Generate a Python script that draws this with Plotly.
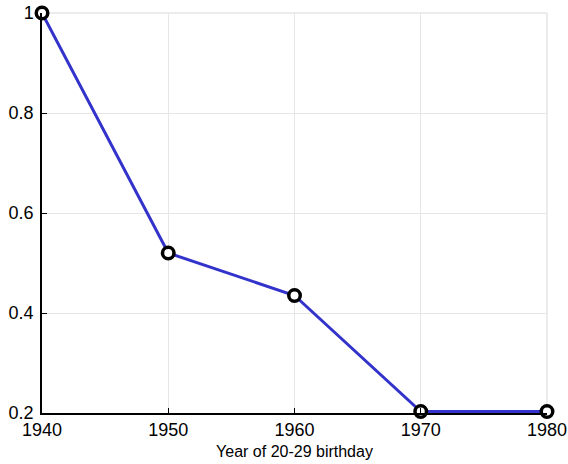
import plotly.graph_objects as go

years = [1940, 1950, 1960, 1970, 1980]
values = [1.0, 0.52, 0.435, 0.203, 0.203]
x_ticks = [1940, 1950, 1960, 1970, 1980]
y_ticks = [0.2, 0.4, 0.6, 0.8, 1.0]
y_tick_labels = ["0.2", "0.4", "0.6", "0.8", "1"]

fig = go.Figure()
fig.add_trace(go.Scatter(
    x=years, y=values, mode="lines+markers",
    line=dict(color="rgb(51,51,204)", width=3),
    marker=dict(size=11.5, color="white", line=dict(color="black", width=3.5)),
    cliponaxis=False,
))

fig.update_layout(
    width=568, height=464,
    margin=dict(l=42, r=21, t=13, b=51, autoexpand=False),
    paper_bgcolor="white", plot_bgcolor="white",
    showlegend=False,
    font=dict(family="Liberation Sans, Arial, sans-serif", color="black"),
)
fig.update_xaxes(
    range=[1940, 1980], tickvals=x_ticks, ticktext=[str(t) for t in x_ticks],
    showgrid=True, gridcolor="#e6e6e6", gridwidth=1,
    showline=True, linecolor="black", linewidth=1.5,
    ticks="inside", ticklen=5, tickcolor="black",
    tickfont=dict(size=18), zeroline=False, automargin=False,
    title=dict(text="Year of 20-29 birthday", font=dict(size=16), standoff=6),
)
fig.update_yaxes(
    range=[0.2, 1.0], tickvals=y_ticks, ticktext=y_tick_labels,
    showgrid=True, gridcolor="#e6e6e6", gridwidth=1,
    showline=True, linecolor="black", linewidth=1.5,
    ticks="inside", ticklen=5, tickcolor="black", ticklabelstandoff=3,
    tickfont=dict(size=18), zeroline=False, automargin=False,
)
fig.add_shape(type="line", xref="paper", yref="paper", x0=0, x1=1, y0=1, y1=1,
              line=dict(color="#d9d9d9", width=1), layer="below")
fig.add_shape(type="line", xref="paper", yref="paper", x0=1, x1=1, y0=0, y1=1,
              line=dict(color="#d9d9d9", width=1), layer="below")

fig.write_html("out.html", config={"displayModeBar": False},
               post_script="document.body.style.margin='0';document.body.style.overflow='hidden';")
